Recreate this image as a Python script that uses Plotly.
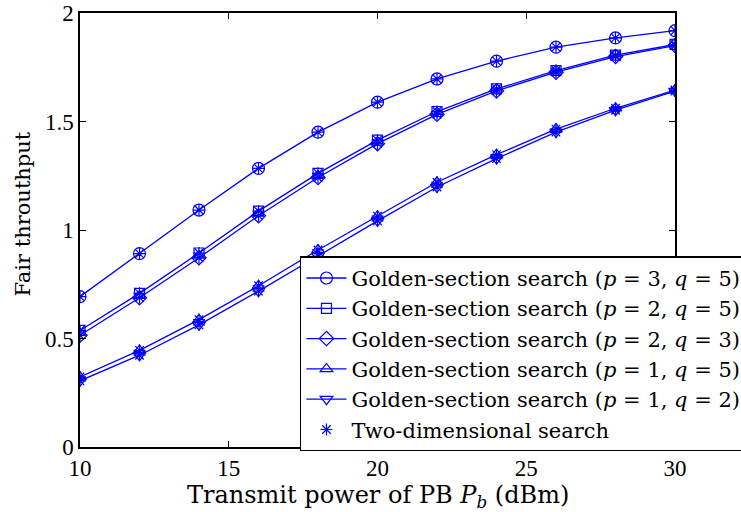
import plotly.graph_objects as go

# Transmit power of the PB (dBm)
power_dbm = [10, 12, 14, 16, 18, 20, 22, 24, 26, 28, 30]

# Fair throughput for each (p, q) setting of the golden-section search
thr_p3_q5 = [0.693, 0.891, 1.092, 1.284, 1.451, 1.589, 1.696, 1.778, 1.843, 1.885, 1.919]
thr_p2_q5 = [0.537, 0.708, 0.894, 1.087, 1.261, 1.414, 1.546, 1.650, 1.735, 1.806, 1.855]
thr_p2_q3 = [0.515, 0.688, 0.872, 1.066, 1.242, 1.398, 1.533, 1.641, 1.727, 1.799, 1.850]
thr_p1_q5 = [0.323, 0.445, 0.587, 0.743, 0.908, 1.064, 1.220, 1.347, 1.465, 1.561, 1.645]
thr_p1_q2 = [0.305, 0.423, 0.563, 0.718, 0.880, 1.042, 1.198, 1.329, 1.451, 1.552, 1.640]

series_names = [
    "Golden-section search (<i>p</i> = 3, <i>q</i> = 5)",
    "Golden-section search (<i>p</i> = 2, <i>q</i> = 5)",
    "Golden-section search (<i>p</i> = 2, <i>q</i> = 3)",
    "Golden-section search (<i>p</i> = 1, <i>q</i> = 5)",
    "Golden-section search (<i>p</i> = 1, <i>q</i> = 2)",
]
series_values = [thr_p3_q5, thr_p2_q5, thr_p2_q3, thr_p1_q5, thr_p1_q2]
series_symbols = ["circle-open", "square-open", "diamond-open",
                  "triangle-up-open", "triangle-down-open"]
series_sizes = [12, 10, 11, 11, 11]

BLUE = "#0000FF"
NUM_FONT = "'Liberation Serif', serif"
TEXT_FONT = "'DejaVu Serif', serif"

fig = go.Figure()

for name, vals, sym, sz in zip(series_names, series_values, series_symbols, series_sizes):
    fig.add_trace(go.Scatter(
        x=power_dbm, y=vals, name=name, mode="lines+markers",
        line=dict(color=BLUE, width=1.3),
        marker=dict(symbol=sym, size=sz, color=BLUE, line=dict(color=BLUE, width=1.2)),
    ))

# The two-dimensional search reaches the same optima; drawn as asterisks on every curve
for i, vals in enumerate(series_values):
    fig.add_trace(go.Scatter(
        x=power_dbm, y=vals, name="Two-dimensional search", mode="markers",
        legendgroup="2d", showlegend=(i == 0),
        marker=dict(symbol="asterisk-open", size=10, color=BLUE,
                    line=dict(color=BLUE, width=1.2)),
    ))

axis_common = dict(
    showgrid=False, zeroline=False, showline=True, linecolor="black", linewidth=1.5,
    mirror="ticks", ticks="inside", ticklen=6, tickwidth=1, tickcolor="black",
    tickfont=dict(family=NUM_FONT, size=23, color="black"),
    ticklabeloverflow="allow",
)

fig.update_layout(
    width=741, height=512,
    margin=dict(l=80, r=66, t=13, b=65, autoexpand=False),
    paper_bgcolor="white", plot_bgcolor="white",
    font=dict(family=TEXT_FONT, color="black"),
    xaxis=dict(range=[10, 30], tickvals=[10, 15, 20, 25, 30], **axis_common),
    yaxis=dict(range=[0, 2], tickvals=[0, 0.5, 1, 1.5, 2], ticktext=["0", "0.5", "1", "1.5", "2"],
               **axis_common),
    annotations=[
        dict(text="Transmit power of PB <i>P<sub>b</sub></i> (dBm)", showarrow=False,
             xref="paper", yref="paper", x=0.5, y=-0.113,
             xanchor="center", yanchor="middle",
             font=dict(family=TEXT_FONT, size=24, color="black")),
        dict(text="Fair throuthput", textangle=-90, showarrow=False,
             xref="paper", yref="paper", x=-0.096, y=0.538,
             xanchor="center", yanchor="middle",
             font=dict(family=TEXT_FONT, size=21, color="black")),
    ],
    legend=dict(
        x=0.3697, y=-0.01, xanchor="left", yanchor="bottom",
        bgcolor="white", bordercolor="black", borderwidth=1.5,
        font=dict(family=TEXT_FONT, size=21, color="black"),
        tracegroupgap=0, itemwidth=40,
    ),
    showlegend=True,
)

fig.write_html("out.html")
